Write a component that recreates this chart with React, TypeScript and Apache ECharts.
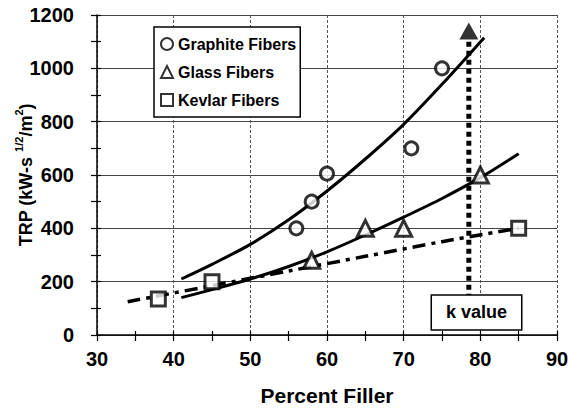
import React, { useEffect, useRef } from "react";
import * as echarts from "echarts";

const graphiteX = [56, 58, 60, 71, 75];
const graphiteY = [400, 500, 605, 700, 1000];
const glassX = [58, 65, 70, 80];
const glassY = [280, 400, 400, 600];
const kevlarX = [38, 45, 85];
const kevlarY = [135, 200, 400];

const graphiteFitX = [41, 45, 50, 55, 60, 65, 70, 75, 80.5];
const graphiteFitY = [210, 265, 340, 432, 540, 660, 790, 940, 1115];
const glassFitX = [41, 45, 50, 55, 60, 65, 70, 75, 80, 85];
const glassFitY = [140, 170, 210, 257, 312, 375, 442, 512, 590, 680];
const kevlarFitX = [34, 45, 55, 65, 75, 85];
const kevlarFitY = [125, 185, 240, 295, 350, 400];

const kX = 78.5;
const kMarkerY = 1140;
const kLineTop = 1100;
const kLineBottom = 150;
const kBoxX = [73.6, 85.4];
const kBoxY = [19, 150];
const kLabel = "k value";

const xMin = 30, xMax = 90, xInterval = 10;
const yMin = 0, yMax = 1200, yInterval = 200;

const names = ["Graphite Fibers", "Glass Fibers", "Kevlar Fibers"];

const FONT = '"Liberation Sans", Arial, Helvetica, sans-serif';

const zip = (xs: number[], ys: number[]) => xs.map((x, i) => [x, ys[i]]);

export default function App() {
  const ref = useRef<HTMLDivElement>(null);
  useEffect(() => {
    if (!ref.current) return;
    const chart = echarts.init(ref.current, undefined, { renderer: "svg" });
    const markerStyle = { color: "#fff", borderColor: "#000", borderWidth: 3 };
    const baseX = {
      type: "value",
      min: xMin,
      max: xMax,
      interval: xInterval,
    };
    const baseY = {
      type: "value",
      min: yMin,
      max: yMax,
      interval: yInterval,
    };
    chart.setOption({
      animation: false,
      backgroundColor: "#fff",
      grid: { left: 97, right: 11, top: 15, bottom: 84, containLabel: false, outerBoundsMode: "none" },
      legend: {
        orient: "vertical",
        left: 154,
        top: 27,
        data: names,
        itemWidth: 12,
        itemHeight: 12,
        itemGap: 12,
        padding: [9, 4, 9, 6],
        backgroundColor: "#fff",
        borderColor: "#000",
        borderWidth: 1.5,
        textStyle: { fontFamily: FONT, fontWeight: "bold", fontSize: 16, color: "#000", lineHeight: 16 },
      },
      xAxis: [
        {
          ...baseX,
          position: "bottom",
          name: "Percent Filler",
          nameLocation: "middle",
          nameGap: 50,
          nameMoveOverlap: false,
          nameTextStyle: { fontFamily: FONT, fontWeight: "bold", fontSize: 21, color: "#000" },
          axisLine: { show: true, lineStyle: { color: "#000", width: 1.5 } },
          axisTick: { show: true, inside: false, length: 6, lineStyle: { color: "#000", width: 1.2 } },
          minorTick: { show: true, splitNumber: 2, length: 6, lineStyle: { color: "#000", width: 1.2 } },
          axisLabel: { fontFamily: FONT, fontWeight: "bold", fontSize: 20, color: "#000", margin: 14 },
          splitLine: { show: true, lineStyle: { color: "#555", width: 1, type: [3, 2] } },
        },
        {
          ...baseX,
          position: "bottom",
          axisLine: { show: false },
          axisTick: { show: true, inside: true, length: 4, lineStyle: { color: "#000", width: 1.2 } },
          minorTick: { show: true, splitNumber: 2, length: 4, lineStyle: { color: "#000", width: 1.2 } },
          axisLabel: { show: false },
          splitLine: { show: false },
        },
      ],
      yAxis: [
        {
          ...baseY,
          position: "left",
          name: "{a|TRP (kW-s }{s|1/2}{a|/m}{s|2}{a|)}",
          nameLocation: "middle",
          nameGap: 62,
          nameRotate: 90,
          nameMoveOverlap: false,
          nameTextStyle: {
            rich: {
              a: { fontFamily: FONT, fontWeight: "bold", fontSize: 18, color: "#000", lineHeight: 22, verticalAlign: "bottom" },
              s: { fontFamily: FONT, fontWeight: "bold", fontSize: 11, color: "#000", lineHeight: 12, verticalAlign: "top" },
            },
          },
          axisLine: { show: true, lineStyle: { color: "#000", width: 1.5 } },
          axisTick: { show: true, inside: false, length: 6, lineStyle: { color: "#000", width: 1.2 } },
          minorTick: { show: true, splitNumber: 2, length: 6, lineStyle: { color: "#000", width: 1.2 } },
          axisLabel: {
            fontFamily: FONT,
            fontWeight: "bold",
            fontSize: 20,
            color: "#000",
            margin: 23,
            formatter: (v: number) => String(v),
          },
          splitLine: { show: true, lineStyle: { color: "#444", width: 1 } },
        },
        {
          ...baseY,
          position: "left",
          axisLine: { show: false },
          axisTick: { show: true, inside: true, length: 4, lineStyle: { color: "#000", width: 1.2 } },
          minorTick: { show: true, splitNumber: 2, length: 4, lineStyle: { color: "#000", width: 1.2 } },
          axisLabel: { show: false },
          splitLine: { show: false },
        },
      ],
      series: [
        {
          name: "graphiteFit",
          type: "line",
          smooth: 0.3,
          symbol: "none",
          data: zip(graphiteFitX, graphiteFitY),
          lineStyle: { color: "#000", width: 3 },
          z: 3,
        },
        {
          name: "glassFit",
          type: "line",
          smooth: 0.3,
          symbol: "none",
          data: zip(glassFitX, glassFitY),
          lineStyle: { color: "#000", width: 3 },
          z: 3,
        },
        {
          name: "kevlarFit",
          type: "line",
          smooth: 0.3,
          symbol: "none",
          data: zip(kevlarFitX, kevlarFitY),
          lineStyle: { color: "#000", width: 3.5, type: [13, 6, 4, 6] },
          z: 3,
        },
        {
          name: "kLine",
          type: "line",
          symbol: "none",
          data: [
            [kX, kLineTop],
            [kX, kLineBottom],
          ],
          lineStyle: { color: "#000", width: 5, type: [5, 4], cap: "butt" },
          markArea: {
            silent: true,
            itemStyle: { color: "#fff", borderColor: "#000", borderWidth: 1.5 },
            label: {
              show: true,
              position: "inside",
              formatter: kLabel,
              fontFamily: FONT,
              fontWeight: "bold",
              fontSize: 18,
              color: "#000",
            },
            data: [[{ coord: [kBoxX[0], kBoxY[1]] }, { coord: [kBoxX[1], kBoxY[0]] }]],
          },
          z: 4,
        },
        {
          name: names[0],
          type: "scatter",
          symbol: "circle",
          symbolSize: 13,
          data: zip(graphiteX, graphiteY),
          itemStyle: markerStyle,
          z: 5,
        },
        {
          name: names[1],
          type: "scatter",
          symbol: "triangle",
          symbolSize: 16,
          data: zip(glassX, glassY),
          itemStyle: markerStyle,
          z: 5,
        },
        {
          name: names[2],
          type: "scatter",
          symbol: "rect",
          symbolSize: 14,
          data: zip(kevlarX, kevlarY),
          itemStyle: markerStyle,
          z: 5,
        },
        {
          name: "kMarker",
          type: "scatter",
          symbol: "triangle",
          symbolSize: [19, 17],
          data: [[kX, kMarkerY]],
          itemStyle: { color: "#000" },
          z: 5,
        },
      ],
    });
    return () => chart.dispose();
  }, []);
  return <div ref={ref} style={{ width: 568, height: 419, position: "fixed", left: 0, top: 0 }} />;
}
